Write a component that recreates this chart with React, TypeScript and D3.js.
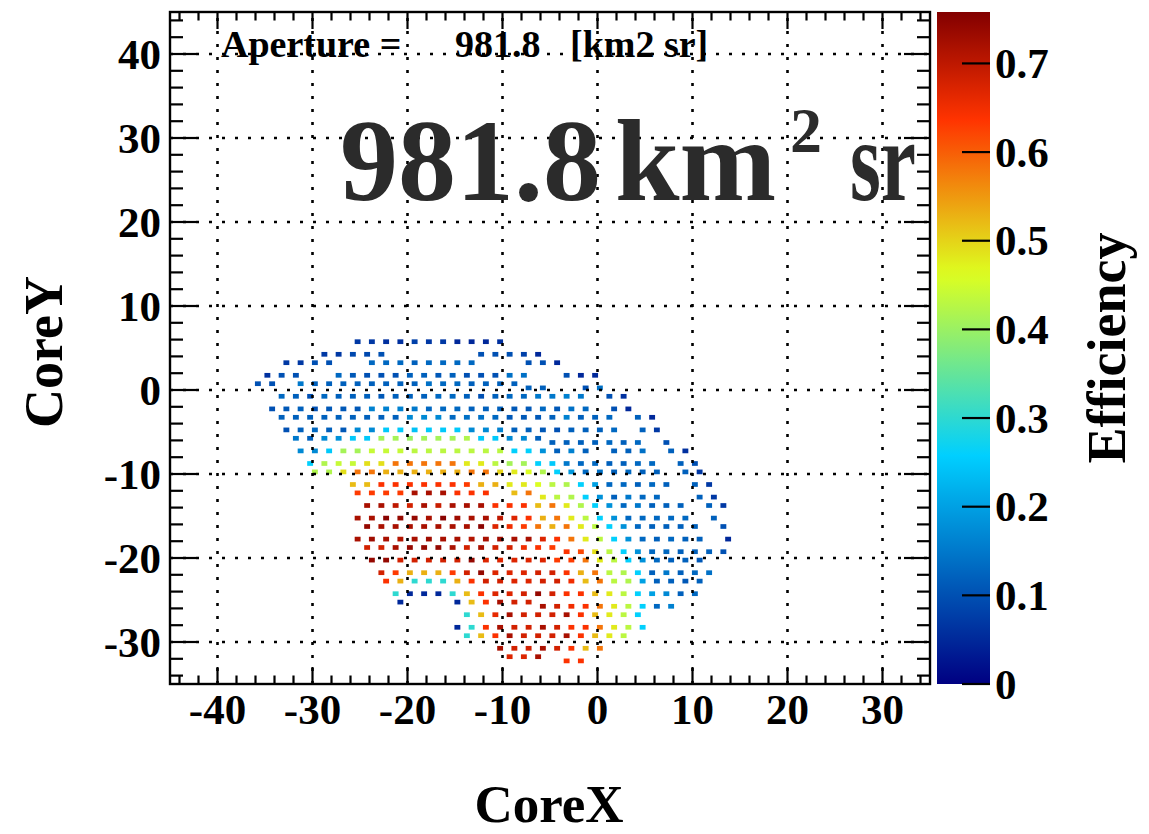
import React from "react";
import * as d3 from "d3";

// Axis ranges and ticks
const X_DOMAIN = [-45, 35];
const Y_DOMAIN = [-35, 45];
const Z_MAX = 0.758;
const X_TICKS = [-40, -30, -20, -10, 0, 10, 20, 30];
const Y_TICKS = [-30, -20, -10, 0, 10, 20, 30, 40];
const Z_TICKS = [0, 0.1, 0.2, 0.3, 0.4, 0.5, 0.6, 0.7];

// Core positions lie on a lattice with this spacing along CoreX
const LATTICE_STEP = 1.5;

// CoreY (bin centre) of each lattice row
const ROW_Y = [
  5.75, 4.25, 3.25, 1.75, 0.75, 0.25, -0.75, -2.25, -3.25, -4.75, -5.75, -6.25,
  -7.25, -8.75, -9.75, -11.25, -12.25, -12.75, -13.75, -15.25, -16.25, -17.75,
  -18.75, -19.25, -20.25, -21.75, -22.75, -24.25, -25.25, -25.75, -26.75,
  -28.25, -29.25, -30.75, -31.75, -32.25,
];

// CoreX of the first core in each row
const ROW_X0 = [
  -25.25, -28.75, -32.75, -34.75, -35.75, -7.25, -33.25, -34.25, -33.25, -32.75,
  -31.75, -4.75, -31.25, -30.25, -29.75, -25.75, -25.25, -5.75, -24.25, -25.25,
  -24.25, -25.25, -24.25, -3.25, -23.75, -22.75, -22.25, -21.25, -20.75, -5.75,
  -13.75, -14.75, -13.75, -10.25, -9.25, -3.25,
];

// Trigger efficiency (percent) of successive cores along each row; "-" = no core
const ROW_EFF = [
  "7 7 6 6 8 7 7 5 5 5 6",
  "7 7 9 9 10 - - - - - - 10 10 10 8 5",
  "7 7 10 10 - - 13 13 13 12 13 13 13 13 - - - 10 10 5",
  "6 10 10 - - 13 11 10 10 10 12 12 11 12 10 10 10 14 14 - - 10 5 5",
  "10 10 - 15 12 12 12 12 12 12 12 12 14 13 13 12 12 12 12",
  "12 12 - - 10 14",
  "13 12 10 13 12 12 12 11 12 12 12 13 13 12 10 12 13 13 15 15 16 15 - 10 6",
  "10 11 12 10 11 11 11 16 16 16 15 13 13 13 12 12 12 11 11 13 11 14 13 - 10 5",
  "12 12 12 12 12 12 12 12 12 17 17 17 13 14 14 13 11 11 11 12 16 12 12 13 - 12 5",
  "10 12 13 12 11 17 17 25 25 24 25 25 25 17 17 16 12 12 11 10 12 12 12 13 - 12 7",
  "15 12 17 18 25 25 41 41 40 41 41 41 42 25 25 17 17 12",
  "12 12 12 12 13 12 13 - 10",
  "17 17 25 41 41 44 44 44 43 43 43 43 43 43 43 26 26 18 12 16 12 - 12 12 14 - 12 6",
  "26 42 44 44 49 49 58 58 58 58 58 48 48 43 41 41 26 25 15 13 13 12 12 13 13 - 12 10",
  "42 42 49 58 58 53 53 53 53 53 53 58 58 50 48 46 42 26 19 13 14 12 13 12 12 - 12 7",
  "52 52 64 64 64 64 64 64 63 53 53 48 48 46 43 42 26 20 13 13 12 13 12 - 12 7",
  "63 63 63 63 72 72 72 64 64 64 - 52 58",
  "48 43 42 26 18 12 15 13 13 - - 12 7",
  "72 72 70 68 72 69 72 72 72 64 64 64 52 58 48 42 26 18 13 15 12 12 12 - 12 7",
  "72 72 75 74 74 72 75 73 72 72 70 67 64 53 58 48 43 26 18 13 13 13 13 13 - 12",
  "74 72 72 72 72 72 72 72 75 67 65 63 58 53 58 48 43 26 18 13 12 12 12 12 - 10",
  "72 73 72 71 72 73 72 72 71 72 73 72 72 67 64 58 48 43 26 18 13 12 13 12 12 - 5",
  "68 68 72 74 74 74 72 68 72 68 68 65 64 63",
  "64 62 49 43 26 18 13 13 12 12 12 10",
  "74 74 68 68 68 68 68 74 67 67 67 67 67 63 63 58 48 43 26 18 13 12 12 11",
  "68 63 53 53 53 63 68 74 67 67 67 68 68 64 53 58 43 42 26 12 15 12 13 14",
  "64 53 30 30 30 53 64 68 68 67 67 68 68 65 52 58 43 42 20 12 12 11 12",
  "30 5 5 5 30 52 64 67 67 68 74 68 64 64 52 48 43 26 20 17 12 13",
  "5 - - - 5 52 64 72 68 68",
  "72 68 65 64 58 48 43 26 13 16",
  "30 52 66 72 68 68 68 72 64 52 48 43 26",
  "5 30 64 72 68 68 72 68 64 64 58 48 43 26",
  "30 52 64 72 68 68 68 72 64 52 48 43",
  "72 68 68 72 68 64 52 58",
  "67 67 72",
  "64 64",
];

const APERTURE = 981.8;

// Colour palette (relative stop positions and colours)
const PAL_STOPS = [0, 0.34, 0.61, 0.84, 1];
const PAL_COLORS = ["#000082", "#00cfff", "#deff1f", "#ff3300", "#820000"];

const FONT = '"Liberation Serif", "Times New Roman", Times, serif';

export default function App() {
  const W = 1149;
  const H = 834;
  const L = 170;
  const R = 930;
  const T = 12;
  const B = 684;

  const x = d3.scaleLinear().domain(X_DOMAIN).range([L, R]);
  const y = d3.scaleLinear().domain(Y_DOMAIN).range([B, T]);
  const z = d3.scaleLinear().domain([0, Z_MAX]).range([B, T]);
  const color = d3
    .scaleLinear<string>()
    .domain(PAL_STOPS.map((s) => s * Z_MAX))
    .range(PAL_COLORS)
    .interpolate(d3.interpolateRgb)
    .clamp(true);

  const cells: { cx: number; cy: number; v: number }[] = [];
  ROW_EFF.forEach((row, r) => {
    row.split(/\s+/).forEach((tok, i) => {
      if (tok === "-") return;
      cells.push({ cx: ROW_X0[r] + i * LATTICE_STEP, cy: ROW_Y[r], v: +tok / 100 });
    });
  });
  const cellW = 0.62;
  const cellH = 0.56;

  const xMinor = d3.range(-44, 35, 2).filter((v) => v % 10 !== 0);
  const yMinor = d3.range(-34, 45, 2).filter((v) => v % 10 !== 0);

  const xMaj = 17;
  const xMin = 8.5;
  const yMaj = 26;
  const yMin = 13;

  const cbL = 937;
  const cbR = 990;

  const gradStops = d3.range(0, 1.0001, 0.02);

  return (
    <svg
      width={W}
      height={H}
      style={{ position: "absolute", left: 0, top: 0, background: "#fff" }}
      fontFamily={FONT}
    >
      <defs>
        <linearGradient id="palette" x1="0" y1="1" x2="0" y2="0">
          {gradStops.map((t) => (
            <stop key={t} offset={t} stopColor={color(t * Z_MAX)} />
          ))}
        </linearGradient>
      </defs>
      <rect x={0} y={0} width={W} height={H} fill="#fff" />

      {/* histogram cells */}
      <g>
        {cells.map((c, i) => (
          <rect
            key={i}
            x={x(c.cx - cellW / 2)}
            y={y(c.cy + cellH / 2)}
            width={x(c.cx + cellW / 2) - x(c.cx - cellW / 2)}
            height={y(c.cy - cellH / 2) - y(c.cy + cellH / 2)}
            fill={color(c.v)}
          />
        ))}
      </g>

      {/* dotted grid */}
      <g stroke="#000" strokeWidth={2.6} strokeDasharray="3 10">
        {X_TICKS.map((v) => (
          <line key={"gx" + v} x1={x(v)} x2={x(v)} y1={B} y2={T} />
        ))}
        {Y_TICKS.map((v) => (
          <line key={"gy" + v} x1={L} x2={R} y1={y(v)} y2={y(v)} />
        ))}
      </g>

      {/* ticks on all four sides */}
      <g stroke="#000" strokeWidth={2.2}>
        {X_TICKS.map((v) => (
          <g key={"tx" + v}>
            <line x1={x(v)} x2={x(v)} y1={B} y2={B - xMaj} />
            <line x1={x(v)} x2={x(v)} y1={T} y2={T + xMaj} />
          </g>
        ))}
        {xMinor.map((v) => (
          <g key={"mx" + v}>
            <line x1={x(v)} x2={x(v)} y1={B} y2={B - xMin} />
            <line x1={x(v)} x2={x(v)} y1={T} y2={T + xMin} />
          </g>
        ))}
        {Y_TICKS.map((v) => (
          <g key={"ty" + v}>
            <line x1={L} x2={L + yMaj} y1={y(v)} y2={y(v)} />
            <line x1={R} x2={R - yMaj} y1={y(v)} y2={y(v)} />
          </g>
        ))}
        {yMinor.map((v) => (
          <g key={"my" + v}>
            <line x1={L} x2={L + yMin} y1={y(v)} y2={y(v)} />
            <line x1={R} x2={R - yMin} y1={y(v)} y2={y(v)} />
          </g>
        ))}
      </g>

      {/* frame */}
      <rect x={L} y={T} width={R - L} height={B - T} fill="none" stroke="#000" strokeWidth={2.4} />

      {/* tick labels */}
      <g fontWeight="bold" fontSize={43} fill="#000">
        {X_TICKS.map((v) => (
          <text key={"lx" + v} x={x(v)} y={724} textAnchor="middle">
            {v}
          </text>
        ))}
        {Y_TICKS.map((v) => (
          <text key={"ly" + v} x={161} y={y(v)} dy="0.34em" textAnchor="end">
            {v}
          </text>
        ))}
      </g>

      {/* axis titles */}
      <text x={549} y={822} textAnchor="middle" fontWeight="bold" fontSize={53}>
        CoreX
      </text>
      <text
        transform={`translate(62,${(T + B) / 2 + 4}) rotate(-90)`}
        textAnchor="middle"
        fontWeight="bold"
        fontSize={54}
      >
        CoreY
      </text>

      {/* colour bar */}
      <rect x={cbL} y={T} width={cbR - cbL} height={B - T} fill="url(#palette)" />
      <g stroke="#000" strokeWidth={2.2}>
        {Z_TICKS.map((v) => (
          <line key={"tz" + v} x1={cbR} x2={cbR - 28} y1={z(v)} y2={z(v)} />
        ))}
      </g>
      <g fontWeight="bold" fontSize={43} fill="#000">
        {Z_TICKS.map((v) => (
          <text key={"lz" + v} x={995} y={z(v)} dy="0.34em">
            {v === 0 ? "0" : d3.format(".1f")(v)}
          </text>
        ))}
      </g>
      <text
        transform={`translate(1125,${(T + B) / 2}) rotate(-90)`}
        textAnchor="middle"
        fontWeight="bold"
        fontSize={54}
      >
        Efficiency
      </text>

      {/* aperture annotation */}
      <g fontWeight="bold" fontSize={38} fill="#000">
        <text x={221} y={57}>Aperture =</text>
        <text x={455} y={57}>{APERTURE.toFixed(1)}</text>
        <text x={570} y={57}>[km2 sr]</text>
      </g>
      <g fontWeight="bold" fill="#2b2b2b">
        <text x={340} y={200} fontSize={116}>{APERTURE.toFixed(1)}</text>
        <text x={615} y={200} fontSize={116}>km</text>
        <text x={790} y={152} fontSize={64}>2</text>
        <text x={850} y={200} fontSize={116} textLength={66} lengthAdjust="spacingAndGlyphs">
          sr
        </text>
      </g>
    </svg>
  );
}
